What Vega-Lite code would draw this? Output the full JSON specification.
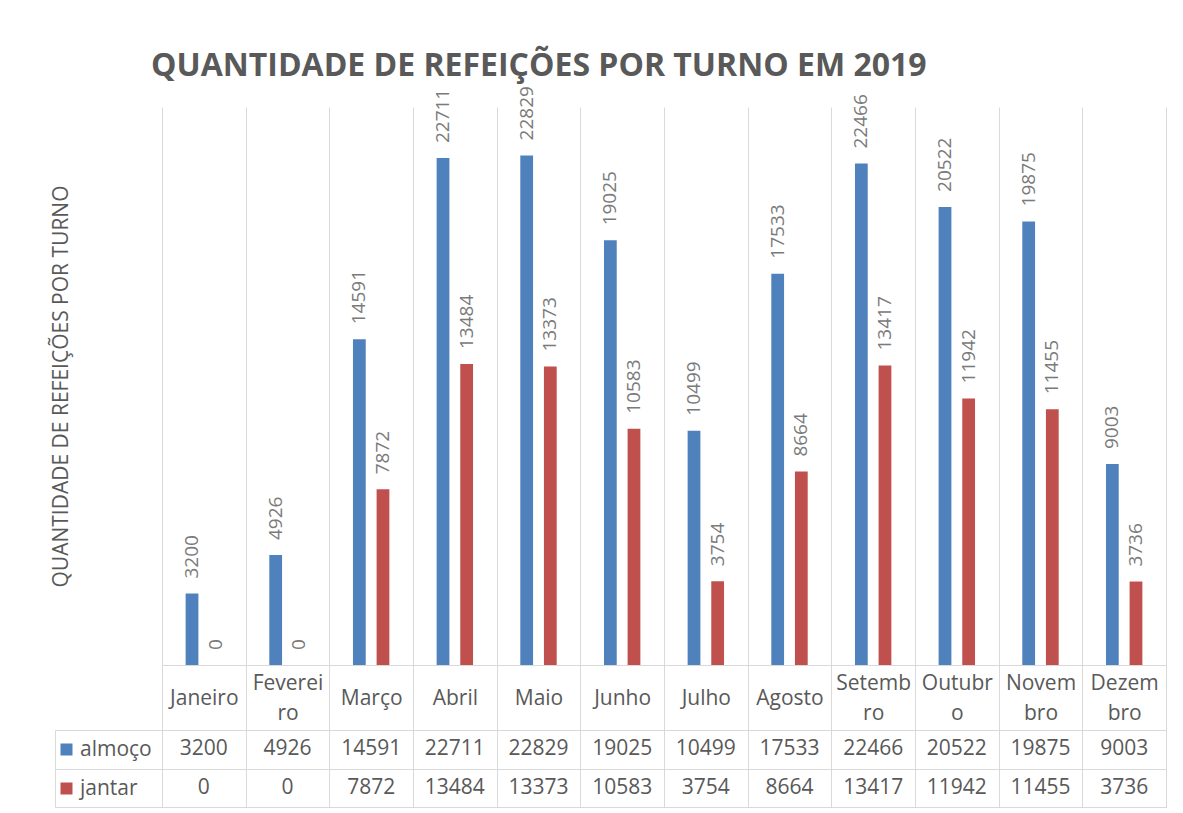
{
  "$schema": "https://vega.github.io/schema/vega-lite/v6.json",
  "background": "white",
  "padding": {"left": 50, "top": 50, "right": 10, "bottom": 4},
  "bounds": "flush",
  "spacing": 65,
  "title": {
    "text": "QUANTIDADE DE REFEIÇÕES POR TURNO EM 2019",
    "fontSize": 32,
    "fontWeight": "bold",
    "color": "#595959",
    "font": "Open Sans",
    "anchor": "start",
    "frame": "group",
    "dx": -11,
    "offset": 3
  },
  "data": {
    "values": [
      {"mes": "Janeiro", "turno": "almoço", "valor": 3200},
      {"mes": "Fevereiro", "turno": "almoço", "valor": 4926},
      {"mes": "Março", "turno": "almoço", "valor": 14591},
      {"mes": "Abril", "turno": "almoço", "valor": 22711},
      {"mes": "Maio", "turno": "almoço", "valor": 22829},
      {"mes": "Junho", "turno": "almoço", "valor": 19025},
      {"mes": "Julho", "turno": "almoço", "valor": 10499},
      {"mes": "Agosto", "turno": "almoço", "valor": 17533},
      {"mes": "Setembro", "turno": "almoço", "valor": 22466},
      {"mes": "Outubro", "turno": "almoço", "valor": 20522},
      {"mes": "Novembro", "turno": "almoço", "valor": 19875},
      {"mes": "Dezembro", "turno": "almoço", "valor": 9003},
      {"mes": "Janeiro", "turno": "jantar", "valor": 0},
      {"mes": "Fevereiro", "turno": "jantar", "valor": 0},
      {"mes": "Março", "turno": "jantar", "valor": 7872},
      {"mes": "Abril", "turno": "jantar", "valor": 13484},
      {"mes": "Maio", "turno": "jantar", "valor": 13373},
      {"mes": "Junho", "turno": "jantar", "valor": 10583},
      {"mes": "Julho", "turno": "jantar", "valor": 3754},
      {"mes": "Agosto", "turno": "jantar", "valor": 8664},
      {"mes": "Setembro", "turno": "jantar", "valor": 13417},
      {"mes": "Outubro", "turno": "jantar", "valor": 11942},
      {"mes": "Novembro", "turno": "jantar", "valor": 11455},
      {"mes": "Dezembro", "turno": "jantar", "valor": 3736}
    ]
  },
  "vconcat": [
    {
      "width": 1004,
      "height": 558,
      "encoding": {
        "x": {
          "field": "mes",
          "type": "nominal",
          "scale": {
            "domain": ["Janeiro", "Fevereiro", "Março", "Abril", "Maio", "Junho", "Julho", "Agosto", "Setembro", "Outubro", "Novembro", "Dezembro"],
            "paddingInner": 0,
            "paddingOuter": 0
          },
          "axis": {
            "title": null,
            "orient": "bottom",
            "domain": true,
            "domainColor": "#d9d9d9",
            "ticks": true,
            "tickBand": "extent",
            "tickSize": 65,
            "tickColor": "#d9d9d9",
            "grid": true,
            "gridColor": "#d9d9d9",
            "labelAngle": 0,
            "labelFontSize": 21,
            "labelColor": "#595959",
            "labelBaseline": "middle",
            "labelPadding": {
              "condition": {"test": "indexof(['Fevereiro', 'Setembro', 'Outubro', 'Novembro', 'Dezembro'], datum.value) >= 0", "value": -47},
              "value": -32
            },
            "labelLineHeight": 30,
            "labelOverlap": false,
            "labelBound": false,
            "labelExpr": "datum.label == 'Fevereiro' ? ['Feverei', 'ro'] : datum.label == 'Setembro' ? ['Setemb', 'ro'] : datum.label == 'Outubro' ? ['Outubr', 'o'] : datum.label == 'Novembro' ? ['Novem', 'bro'] : datum.label == 'Dezembro' ? ['Dezem', 'bro'] : datum.label"
          }
        },
        "xOffset": {
          "field": "turno",
          "type": "nominal",
          "scale": {"domain": ["almoço", "jantar"], "paddingInner": 0.46, "paddingOuter": 1.158}
        },
        "y": {
          "field": "valor",
          "type": "quantitative",
          "scale": {"domain": [0, 25000], "nice": false},
          "axis": {
            "title": "QUANTIDADE DE REFEIÇÕES POR TURNO",
            "titleFontSize": 21,
            "titleFontWeight": "normal",
            "titleColor": "#595959",
            "titlePadding": 91,
            "minExtent": 0,
            "domain": false,
            "ticks": false,
            "labels": false,
            "grid": false
          }
        }
      },
      "layer": [
        {
          "mark": {"type": "bar"},
          "encoding": {
            "color": {
              "field": "turno",
              "type": "nominal",
              "scale": {"domain": ["almoço", "jantar"], "range": ["#4F81BD", "#C0504D"]},
              "legend": {
                "orient": "none",
                "legendX": -106,
                "legendY": 632,
                "title": null,
                "symbolType": "square",
                "symbolSize": 144,
                "symbolStrokeWidth": 0,
                "labelFontSize": 21,
                "labelColor": "#595959",
                "labelOffset": 3,
                "rowPadding": 17,
                "padding": 0
              }
            }
          }
        },
        {
          "mark": {"type": "text", "angle": 270, "align": "left", "baseline": "middle", "dx": 15, "fontSize": 19, "color": "#7a7a7a"},
          "encoding": {"text": {"field": "valor", "type": "quantitative"}}
        }
      ]
    },
    {
      "width": 1004,
      "height": 77,
      "view": {"stroke": "#d9d9d9"},
      "mark": {"type": "text", "fontSize": 21, "color": "#595959", "align": "center", "baseline": "middle"},
      "encoding": {
        "x": {
          "field": "mes",
          "type": "nominal",
          "scale": {
            "domain": ["Janeiro", "Fevereiro", "Março", "Abril", "Maio", "Junho", "Julho", "Agosto", "Setembro", "Outubro", "Novembro", "Dezembro"],
            "paddingInner": 0,
            "paddingOuter": 0
          },
          "axis": {
            "title": null,
            "orient": "top",
            "labels": false,
            "ticks": false,
            "domain": false,
            "grid": true,
            "tickBand": "extent",
            "gridColor": "#d9d9d9"
          }
        },
        "y": {
          "field": "turno",
          "type": "nominal",
          "scale": {"domain": ["almoço", "jantar"], "paddingInner": 0, "paddingOuter": 0},
          "axis": {
            "title": null,
            "orient": "left",
            "offset": 107,
            "labels": false,
            "domain": true,
            "domainColor": "#d9d9d9",
            "ticks": true,
            "tickBand": "extent",
            "tickSize": -107,
            "tickColor": "#d9d9d9",
            "grid": true,
            "gridColor": "#d9d9d9"
          }
        },
        "text": {"field": "valor", "type": "quantitative"}
      }
    }
  ],
  "config": {
    "font": "Open Sans",
    "view": {"stroke": null}
  }
}
